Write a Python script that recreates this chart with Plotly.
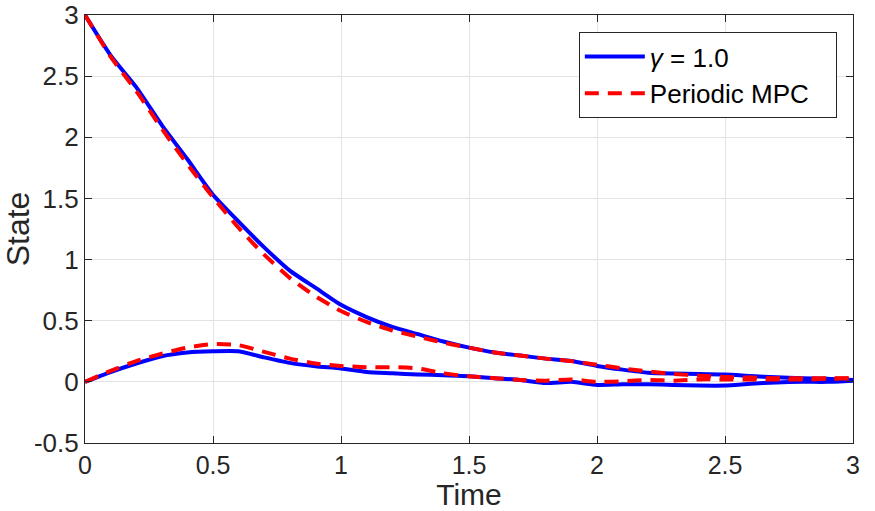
import plotly.graph_objects as go

time = [round(0.1 * i, 1) for i in range(31)]

gamma_state1 = [3.0, 2.67, 2.41, 2.1, 1.82, 1.53, 1.31, 1.1, 0.91, 0.77, 0.63,
                0.53, 0.45, 0.39, 0.33, 0.28, 0.24, 0.215, 0.19, 0.17, 0.13,
                0.1, 0.075, 0.068, 0.065, 0.06, 0.048, 0.037, 0.03, 0.025, 0.015]
gamma_state2 = [0.0, 0.08, 0.15, 0.21, 0.24, 0.25, 0.25, 0.2, 0.155, 0.127, 0.11,
                0.08, 0.07, 0.06, 0.055, 0.045, 0.03, 0.015, -0.01, 0.0, -0.025,
                -0.02, -0.02, -0.025, -0.03, -0.03, -0.015, -0.005, 0.0, 0.0, 0.01]
mpc_state1 = [3.0, 2.66, 2.38, 2.07, 1.78, 1.51, 1.26, 1.04, 0.85, 0.70, 0.58,
              0.49, 0.42, 0.37, 0.32, 0.28, 0.24, 0.215, 0.19, 0.17, 0.14,
              0.11, 0.085, 0.065, 0.05, 0.04, 0.035, 0.03, 0.03, 0.03, 0.03]
mpc_state2 = [0.0, 0.09, 0.17, 0.23, 0.28, 0.31, 0.3, 0.245, 0.19, 0.15, 0.13,
              0.12, 0.12, 0.11, 0.07, 0.045, 0.03, 0.015, 0.01, 0.02, 0.0,
              0.005, 0.015, 0.01, 0.02, 0.02, 0.02, 0.02, 0.02, 0.025, 0.03]

y_ticks = [-0.5, 0, 0.5, 1, 1.5, 2, 2.5, 3]
y_ticktext = ["-0.5", "0", "0.5", "1", "1.5", "2", "2.5", "3"]
x_ticks = [0, 0.5, 1, 1.5, 2, 2.5, 3]
x_ticktext = ["0", "0.5", "1", "1.5", "2", "2.5", "3"]

FONT = "Liberation Sans"
TXT = "#262626"
PAD = "\u00a0" * 3
blue = dict(color="#0000FF", width=4, shape="spline", smoothing=0.6)
red = dict(color="#FF0000", width=4, dash="14px,9px", shape="spline", smoothing=0.6)

fig = go.Figure()
fig.add_trace(go.Scatter(x=time, y=gamma_state1, mode="lines", line=blue,
                         name="<i>γ</i> = 1.0", legendgroup="g"))
fig.add_trace(go.Scatter(x=time, y=gamma_state2, mode="lines", line=blue,
                         showlegend=False, legendgroup="g"))
fig.add_trace(go.Scatter(x=time, y=mpc_state1, mode="lines", line=red,
                         name="Periodic MPC" + PAD, legendgroup="m"))
fig.add_trace(go.Scatter(x=time, y=mpc_state2, mode="lines", line=red,
                         showlegend=False, legendgroup="m"))

axis_common = dict(showline=True, linecolor=TXT, linewidth=1.2, mirror="ticks",
                   ticks="inside", ticklen=7, tickcolor=TXT, automargin=False,
                   ticklabeloverflow="allow",
                   showgrid=True, gridcolor="#E3E3E3", gridwidth=1, zeroline=False)

fig.update_layout(
    width=875, height=511,
    margin=dict(l=85, r=22, t=15, b=68),
    paper_bgcolor="white", plot_bgcolor="white",
    font=dict(family=FONT, color=TXT),
    xaxis=dict(range=[0, 3], tickvals=x_ticks, ticktext=x_ticktext,
               tickfont=dict(family=FONT, size=25, color=TXT),
               title=dict(text="Time", font=dict(family=FONT, size=30, color=TXT), standoff=0),
               **axis_common),
    yaxis=dict(range=[-0.5, 3], tickvals=y_ticks, ticktext=y_ticktext,
               tickfont=dict(family=FONT, size=26, color=TXT),
               title=dict(text="State", font=dict(family=FONT, size=32, color=TXT), standoff=2),
               **axis_common),
    legend=dict(x=0.643, y=0.96, xanchor="left", yanchor="top",
                bgcolor="white", bordercolor=TXT, borderwidth=1,
                font=dict(family=FONT, size=26, color="black"),
                tracegroupgap=0, itemwidth=60),
)

fig.write_html("out.html")
